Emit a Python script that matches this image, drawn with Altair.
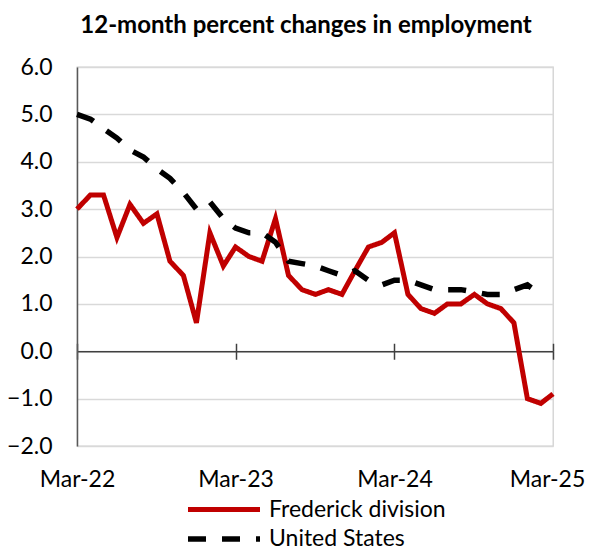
import altair as alt
import pandas as pd

# Months Mar-2022 .. Mar-2025
months = [f"{y}-{m:02d}-01" for y in range(2022, 2026) for m in range(1, 13)]
months = months[months.index("2022-03-01"):months.index("2025-03-01") + 1]

frederick = [3.0, 3.3, 3.3, 2.4, 3.1, 2.7, 2.9, 1.9, 1.6, 0.6, 2.5, 1.8,
             2.2, 2.0, 1.9, 2.8, 1.6, 1.3, 1.2, 1.3, 1.2, 1.7, 2.2, 2.3,
             2.5, 1.2, 0.9, 0.8, 1.0, 1.0, 1.2, 1.0, 0.9, 0.6, -1.0, -1.1,
             -0.9]
united_states = [5.0, 4.9, 4.7, 4.5, 4.25, 4.1, 3.85, 3.65, 3.35, 3.0, 3.15, 2.8,
                 2.6, 2.5, 2.5, 2.3, 1.9, 1.85, 1.8, 1.7, 1.6, 1.7, 1.5, 1.4,
                 1.5, 1.5, 1.4, 1.3, 1.3, 1.3, 1.25, 1.2, 1.2, 1.3, 1.4, 1.2]

series_names = ["Frederick division", "United States"]
y_ticks = [-2, -1, 0, 1, 2, 3, 4, 5, 6]
x_tick_years = [2022, 2023, 2024, 2025]

rows = []
for i, m in enumerate(months):
    rows.append({"month": m, "series": series_names[0], "value": frederick[i]})
    if i < len(united_states):
        rows.append({"month": m, "series": series_names[1], "value": united_states[i]})
df = pd.DataFrame(rows)

W, H = 476, 379
FONT = "Lato"

tick_vals = [alt.DateTime(year=y, month=3, date=1, utc=True) for y in x_tick_years]
xscale = alt.Scale(type="utc", domain=[tick_vals[0], tick_vals[-1]], nice=False)
yscale = alt.Scale(domain=[-2, 6], nice=False, zero=False)

y_axis = alt.Axis(values=y_ticks, format=".1f", labelFont=FONT, labelFontSize=23,
                  labelColor="black", labelPadding=25, ticks=False,
                  domainColor="#595959", domainWidth=1.5,
                  gridColor="#d9d9d9", gridWidth=1.3, title=None)

axis_labels = alt.Axis(values=tick_vals, format="%b-%y", labelFont=FONT, labelFontSize=23,
                       labelColor="black", labelPadding=22, ticks=False, domain=False,
                       grid=False, title=None, labelFlush=False, labelOverlap=False,
                       labelOffset=alt.ExprRef(expr="utcyear(datum.value) == 2025 ? -6 : 0"))
axis_zero_down = alt.Axis(values=tick_vals, orient="bottom", offset=-H * 2 / 8, labels=False,
                          domain=True, domainColor="#404040", domainWidth=1.5,
                          ticks=True, tickSize=8, tickColor="#404040", tickWidth=1.5,
                          grid=False, title=None)
axis_zero_up = alt.Axis(values=tick_vals, orient="top", offset=-H * 6 / 8, labels=False,
                        domain=False, ticks=True, tickSize=8, tickColor="#404040",
                        tickWidth=1.5, grid=False, title=None)

legend = alt.Legend(orient="none", legendX=134, legendY=430, title=None,
                    padding=0, symbolType="M-3.6,0H3.6", symbolSize=400,
                    symbolStrokeWidth=5.5, labelFont=FONT, labelFontSize=23,
                    labelColor="black", labelOffset=32, rowPadding=4, labelLimit=400)

base = alt.Chart(df)

lines = base.mark_line().encode(
    x=alt.X("month:T", scale=xscale, axis=axis_labels),
    y=alt.Y("value:Q", scale=yscale, axis=y_axis),
    color=alt.Color("series:N",
                    scale=alt.Scale(domain=series_names, range=["#c00000", "#000000"]),
                    legend=legend),
    strokeDash=alt.StrokeDash("series:N",
                              scale=alt.Scale(domain=series_names, range=[[1, 0], [18, 16]]),
                              legend=legend),
    strokeWidth=alt.StrokeWidth("series:N",
                                scale=alt.Scale(domain=series_names, range=[5, 5.5]),
                                legend=None),
)

ghost_down = base.mark_line(opacity=0).encode(
    x=alt.X("month:T", scale=xscale, axis=axis_zero_down),
    y=alt.Y("value:Q", scale=yscale),
    detail="series:N",
)
ghost_up = base.mark_line(opacity=0).encode(
    x=alt.X("month:T", scale=xscale, axis=axis_zero_up),
    y=alt.Y("value:Q", scale=yscale),
    detail="series:N",
)

chart = alt.layer(ghost_down, ghost_up, lines).resolve_axis(x="independent").properties(
    width=W, height=H,
    title=alt.TitleParams("12-month percent changes in employment", font=FONT, fontSize=24,
                          fontWeight="bold", color="black", anchor="middle", frame="group",
                          dx=-9, baseline="alphabetic", offset=-1),
    autosize=alt.AutoSizeParams(type="none"),
    padding={"left": 69, "top": 59, "right": 34, "bottom": 106},
).configure_view(stroke="#d0d0d0", strokeWidth=1.3)

chart.save("out.html", embed_options={"renderer": "svg", "actions": False})
